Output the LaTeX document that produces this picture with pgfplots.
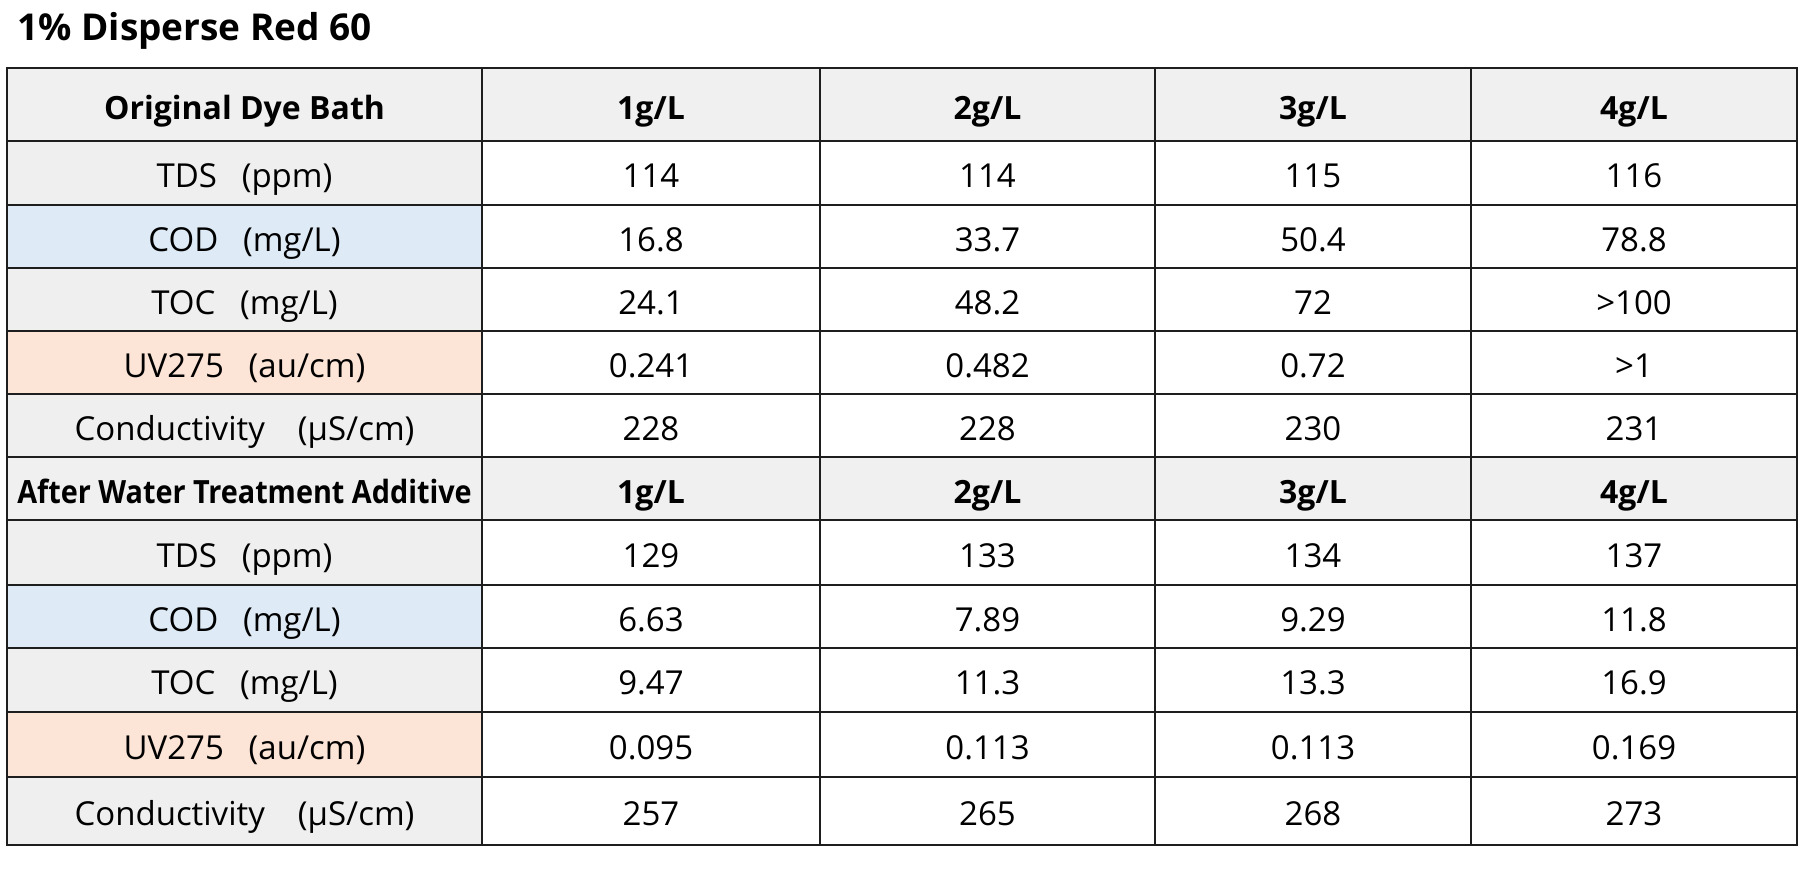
\documentclass[border=0pt]{standalone}
\usepackage{pgfplots}
\usepackage{pgfplotstable}
\pgfplotsset{compat=1.18}
\usepackage{fontspec}
\setmainfont{Open Sans}
\newfontfamily\narrowfont{Open Sans}[FakeStretch=0.9]
\definecolor{hdr}{HTML}{F0F0F0}
\definecolor{lab}{HTML}{EFEFEF}
\definecolor{blu}{HTML}{DEEAF5}
\definecolor{pch}{HTML}{FCE4D6}
\definecolor{ln}{HTML}{1E1E1E}

\pgfplotstableread[col sep=comma]{
x,y,t
244.5,187.5,TDS\hspace{0.75em}(ppm)
244.5,251,COD\hspace{0.75em}(mg/L)
244.5,314,TOC\hspace{0.75em}(mg/L)
244.5,377,UV275\hspace{0.75em}(au/cm)
244.5,440,Conductivity\hspace{1em}(µS/cm)
244.5,567,TDS\hspace{0.75em}(ppm)
244.5,631,COD\hspace{0.75em}(mg/L)
244.5,694.5,TOC\hspace{0.75em}(mg/L)
244.5,759,UV275\hspace{0.75em}(au/cm)
244.5,825.5,Conductivity\hspace{1em}(µS/cm)
}\labeltab

\pgfplotstableread[col sep=comma]{
x,y,t
244.5,119,Original Dye Bath
651,119,1g/L
987.5,119,2g/L
1313,119,3g/L
1634,119,4g/L
244.5,503,{\narrowfont\bfseries After Water Treatment Additive}
651,503,1g/L
987.5,503,2g/L
1313,503,3g/L
1634,503,4g/L
}\headtab

% Original dye bath: columns 1g/L .. 4g/L
\pgfplotstableread[col sep=comma]{
x,y,t
651,187.5,114
987.5,187.5,114
1313,187.5,115
1634,187.5,116
651,251,16.8
987.5,251,33.7
1313,251,50.4
1634,251,78.8
651,314,24.1
987.5,314,48.2
1313,314,72
1634,314,>100
651,377,0.241
987.5,377,0.482
1313,377,0.72
1634,377,>1
651,440,228
987.5,440,228
1313,440,230
1634,440,231
}\origtab

% After water treatment additive
\pgfplotstableread[col sep=comma]{
x,y,t
651,567,129
987.5,567,133
1313,567,134
1634,567,137
651,631,6.63
987.5,631,7.89
1313,631,9.29
1634,631,11.8
651,694.5,9.47
987.5,694.5,11.3
1313,694.5,13.3
1634,694.5,16.9
651,759,0.095
987.5,759,0.113
1313,759,0.113
1634,759,0.169
651,825.5,257
987.5,825.5,265
1313,825.5,268
1634,825.5,273
}\aftertab

\begin{document}
\begin{tikzpicture}
\path[use as bounding box] (0,0) rectangle (902pt,-436pt);
\begin{axis}[
  at={(3.5pt,-34pt)}, anchor=north west,
  scale only axis, width=895pt, height=388.5pt,
  xmin=7, xmax=1797, ymin=68, ymax=845, y dir=reverse,
  xtick={482,820,1155,1471},
  ytick={141,205,268,331,394,457,520,585,648,712,777},
  xticklabels={}, yticklabels={},
  major tick length=0pt,
  grid=major,
  major grid style={line width=1.2pt, color=ln},
  axis line style={line width=1.4pt, color=ln},
  axis on top,
  clip=false,
  title={\bfseries 1\% Disperse Red 60},
  title style={at={(0,1)}, anchor=base west, xshift=5pt, yshift=8pt,
    font=\fontsize{18.5pt}{22pt}\selectfont\bfseries, inner sep=0pt},
]
% backgrounds
\addplot[fill=hdr, draw=none] coordinates {(7,68)(1797,68)(1797,141)(7,141)} -- cycle;
\addplot[fill=hdr, draw=none] coordinates {(7,457)(1797,457)(1797,520)(7,520)} -- cycle;
\addplot[fill=lab, draw=none] coordinates {(7,141)(482,141)(482,205)(7,205)} -- cycle;
\addplot[fill=blu, draw=none] coordinates {(7,205)(482,205)(482,268)(7,268)} -- cycle;
\addplot[fill=lab, draw=none] coordinates {(7,268)(482,268)(482,331)(7,331)} -- cycle;
\addplot[fill=pch, draw=none] coordinates {(7,331)(482,331)(482,394)(7,394)} -- cycle;
\addplot[fill=lab, draw=none] coordinates {(7,394)(482,394)(482,457)(7,457)} -- cycle;
\addplot[fill=lab, draw=none] coordinates {(7,520)(482,520)(482,585)(7,585)} -- cycle;
\addplot[fill=blu, draw=none] coordinates {(7,585)(482,585)(482,648)(7,648)} -- cycle;
\addplot[fill=lab, draw=none] coordinates {(7,648)(482,648)(482,712)(7,712)} -- cycle;
\addplot[fill=pch, draw=none] coordinates {(7,712)(482,712)(482,777)(7,777)} -- cycle;
\addplot[fill=lab, draw=none] coordinates {(7,777)(482,777)(482,845)(7,845)} -- cycle;
% texts
\pgfplotsset{txt/.style={draw=none, mark=none, point meta=explicit symbolic,
  nodes near coords,
  every node near coord/.append style={anchor=base, inner sep=0pt, text=black, #1}}}
\addplot[txt={font=\fontsize{16.5pt}{20pt}\selectfont}] table[x=x,y=y,meta=t]{\labeltab};
\addplot[txt={font=\fontsize{16.5pt}{20pt}\selectfont}] table[x=x,y=y,meta=t]{\origtab};
\addplot[txt={font=\fontsize{16.5pt}{20pt}\selectfont}] table[x=x,y=y,meta=t]{\aftertab};
\addplot[txt={font=\fontsize{16pt}{20pt}\selectfont\bfseries}] table[x=x,y=y,meta=t]{\headtab};
\end{axis}
\end{tikzpicture}
\end{document}
